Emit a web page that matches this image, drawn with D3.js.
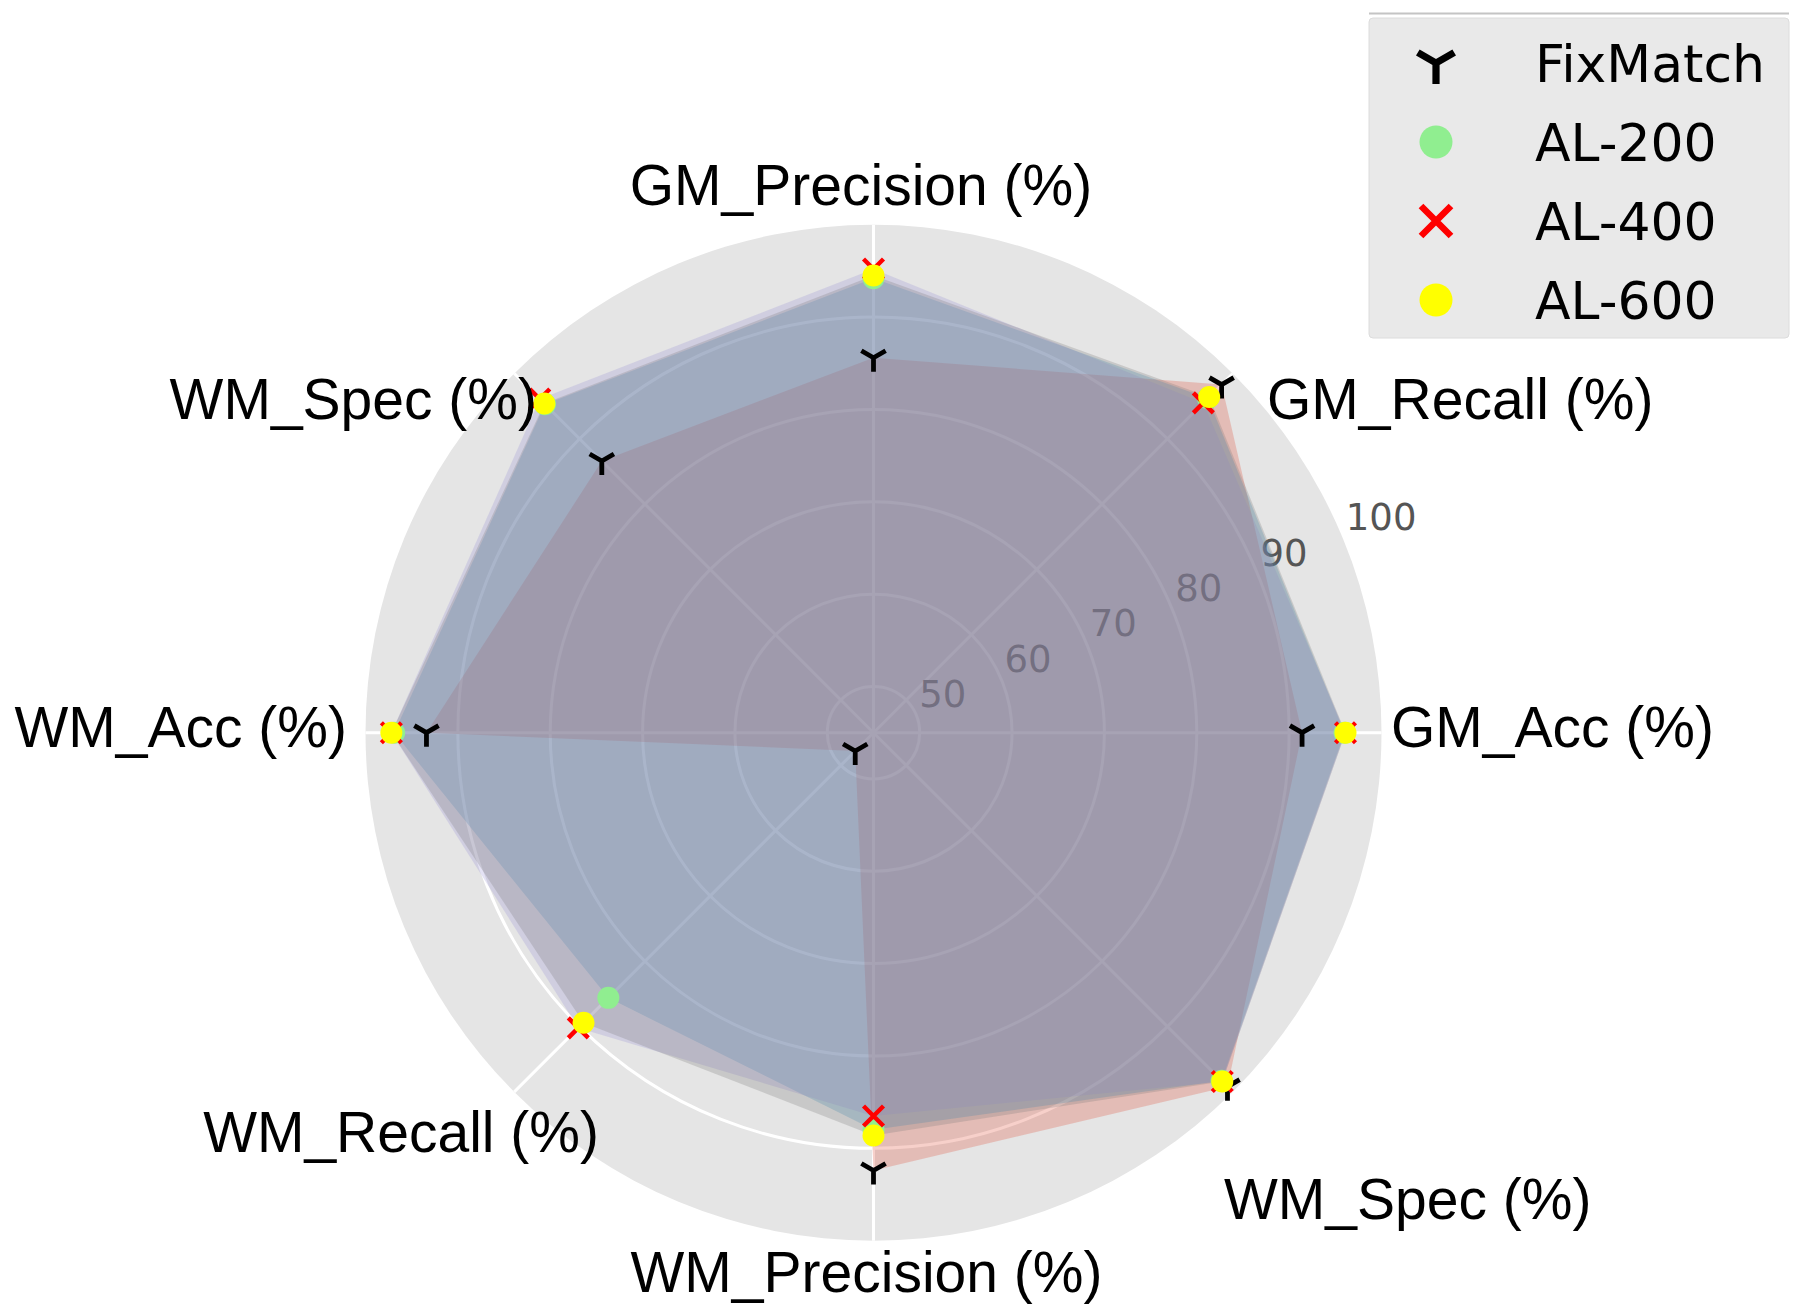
<!DOCTYPE html>
<html><head><meta charset="utf-8">
<script src="https://cdn.jsdelivr.net/npm/d3@7"></script>
<style>html,body{margin:0;padding:0;background:#fff}</style>
</head><body><svg id="chart" width="1800" height="1315"></svg>
<script>
// ---- data ----
const categories = ["GM_Acc (%)", "GM_Recall (%)", "GM_Precision (%)", "WM_Spec (%)", "WM_Acc (%)", "WM_Recall (%)", "WM_Precision (%)", "WM_Spec (%)"];
const seriesNames = ["FixMatch", "AL-200", "AL-400", "AL-600"];
const fixMatch = [91.4, 98.3, 85.6, 86.6, 93.4, 47.8, 92.4, 99.2];
const al200    = [96.0, 96.2, 94.2, 95.3, 96.9, 85.6, 88.0, 98.3];
const al400    = [96.1, 95.5, 95.2, 96.1, 97.2, 90.2, 86.5, 98.4];
const al600    = [96.1, 96.4, 94.5, 95.4, 97.2, 89.4, 88.6, 98.4];
const radialTicks = [50, 60, 70, 80, 90, 100];
const radialDomain = [45, 100];

// ---- layout / style ----
const cx = 873.5, cy = 732.7, R = 508;
const fillColors = ["#E24A33", "#348ABD", "#988ED5", "#777777"];
const markerColors = ["#000000", "#90EE90", "#FF0000", "#FFFF00"];
const markerTypes = ["tri", "circle", "x", "circle"];
const allSeries = [fixMatch, al200, al400, al600];

const svg = d3.select("#chart");
const r = d3.scaleLinear().domain(radialDomain).range([0, R]);
const n = categories.length;
// d3 radial angle: clockwise from 12 o'clock; index 0 at 3 o'clock, going counter-clockwise
const ang = d3.scaleLinear().domain([0, n]).range([Math.PI / 2, Math.PI / 2 - 2 * Math.PI]);
const px = (a, rad) => rad * Math.sin(a);
const py = (a, rad) => -rad * Math.cos(a);

const g = svg.append("g").attr("transform", `translate(${cx},${cy})`);

// background disk
g.append("circle").attr("r", R).attr("fill", "#E5E5E5");

// grid rings
g.selectAll("circle.ring").data(radialTicks.filter(v => v < radialDomain[1])).join("circle")
  .attr("class", "ring").attr("r", d => r(d))
  .attr("fill", "none").attr("stroke", "#ffffff").attr("stroke-width", 3);

// spokes
g.selectAll("line.spoke").data(d3.range(n)).join("line")
  .attr("class", "spoke")
  .attr("x1", 0).attr("y1", 0)
  .attr("x2", i => px(ang(i), R)).attr("y2", i => py(ang(i), R))
  .attr("stroke", "#ffffff").attr("stroke-width", 3);

// radial tick labels at 22.5 degrees
const labA = Math.PI / 2 - Math.PI / 8;
g.selectAll("text.rtick").data(radialTicks).join("text")
  .attr("class", "rtick")
  .attr("x", d => px(labA, r(d)) + 3)
  .attr("y", d => py(labA, r(d)) - 8)
  .attr("font-family", "DejaVu Sans")
  .attr("font-size", 37)
  .attr("fill", "#555555")
  .text(d => d);

// fills
const radial = d3.lineRadial()
  .angle((d, i) => ang(i))
  .radius(d => r(d))
  .curve(d3.curveLinearClosed);
g.selectAll("path.area").data(allSeries).join("path")
  .attr("class", "area")
  .attr("d", d => radial(d))
  .attr("fill", (d, i) => fillColors[i])
  .attr("fill-opacity", 0.26)
  .attr("stroke", "none");

// marker drawing
function drawMarker(sel, type, color, s) {
  if (type === "tri") {
    const L = 14 * s;
    sel.append("path")
      .attr("d", `M0,0L0,${L}M0,0L${-0.866 * L},${-0.5 * L}M0,0L${0.866 * L},${-0.5 * L}`)
      .attr("stroke", color).attr("stroke-width", 4.8 * s).attr("fill", "none")
      .attr("stroke-linejoin", "miter");
  } else if (type === "x") {
    const h = 10 * s;
    sel.append("path")
      .attr("d", `M${-h},${-h}L${h},${h}M${-h},${h}L${h},${-h}`)
      .attr("stroke", color).attr("stroke-width", 4.4 * s).attr("fill", "none");
  } else {
    sel.append("circle").attr("r", 11 * s).attr("fill", color);
  }
}

allSeries.forEach((vals, si) => {
  vals.forEach((v, i) => {
    const a = ang(i);
    const m = g.append("g").attr("transform", `translate(${px(a, r(v))},${py(a, r(v))})`);
    drawMarker(m, markerTypes[si], markerColors[si], 1);
  });
});

// category labels
const labelLayout = [
  {x: 1391, y: 726.7, anchor: "start"},
  {x: 1267, y: 398.5, anchor: "start"},
  {x: 861, y: 184, anchor: "middle"},
  {x: 537, y: 398.5, anchor: "end"},
  {x: 347, y: 726.7, anchor: "end"},
  {x: 599, y: 1131, anchor: "end"},
  {x: 866.5, y: 1271.4, anchor: "middle"},
  {x: 1224, y: 1198, anchor: "start"}
];
svg.selectAll("text.cat").data(categories).join("text")
  .attr("class", "cat")
  .attr("x", (d, i) => labelLayout[i].x)
  .attr("y", (d, i) => labelLayout[i].y)
  .attr("dy", "0.36em")
  .attr("text-anchor", (d, i) => labelLayout[i].anchor)
  .attr("font-family", "Liberation Sans, Arial, sans-serif")
  .attr("font-size", 57)
  .attr("fill", "#000")
  .text(d => d);

// legend
const lg = svg.append("g");
lg.append("line").attr("x1", 1369).attr("x2", 1789).attr("y1", 13.5).attr("y2", 13.5)
  .attr("stroke", "#c4c4c4").attr("stroke-width", 2);
lg.append("rect").attr("x", 1369).attr("y", 18).attr("width", 420).attr("height", 320)
  .attr("rx", 4).attr("fill", "#E9E9E9").attr("stroke", "#dcdcdc").attr("stroke-width", 1);
const legendY = d3.scalePoint().domain(seriesNames).range([63, 300]);
seriesNames.forEach((name, si) => {
  const m = lg.append("g").attr("transform", `translate(1436,${legendY(name)})`);
  drawMarker(m, markerTypes[si], markerColors[si], 1.5);
  lg.append("text").attr("x", 1535).attr("y", legendY(name)).attr("dy", "0.36em")
    .attr("font-family", "DejaVu Sans").attr("font-size", 52).attr("fill", "#000")
    .text(name);
});
</script>
</body></html>
